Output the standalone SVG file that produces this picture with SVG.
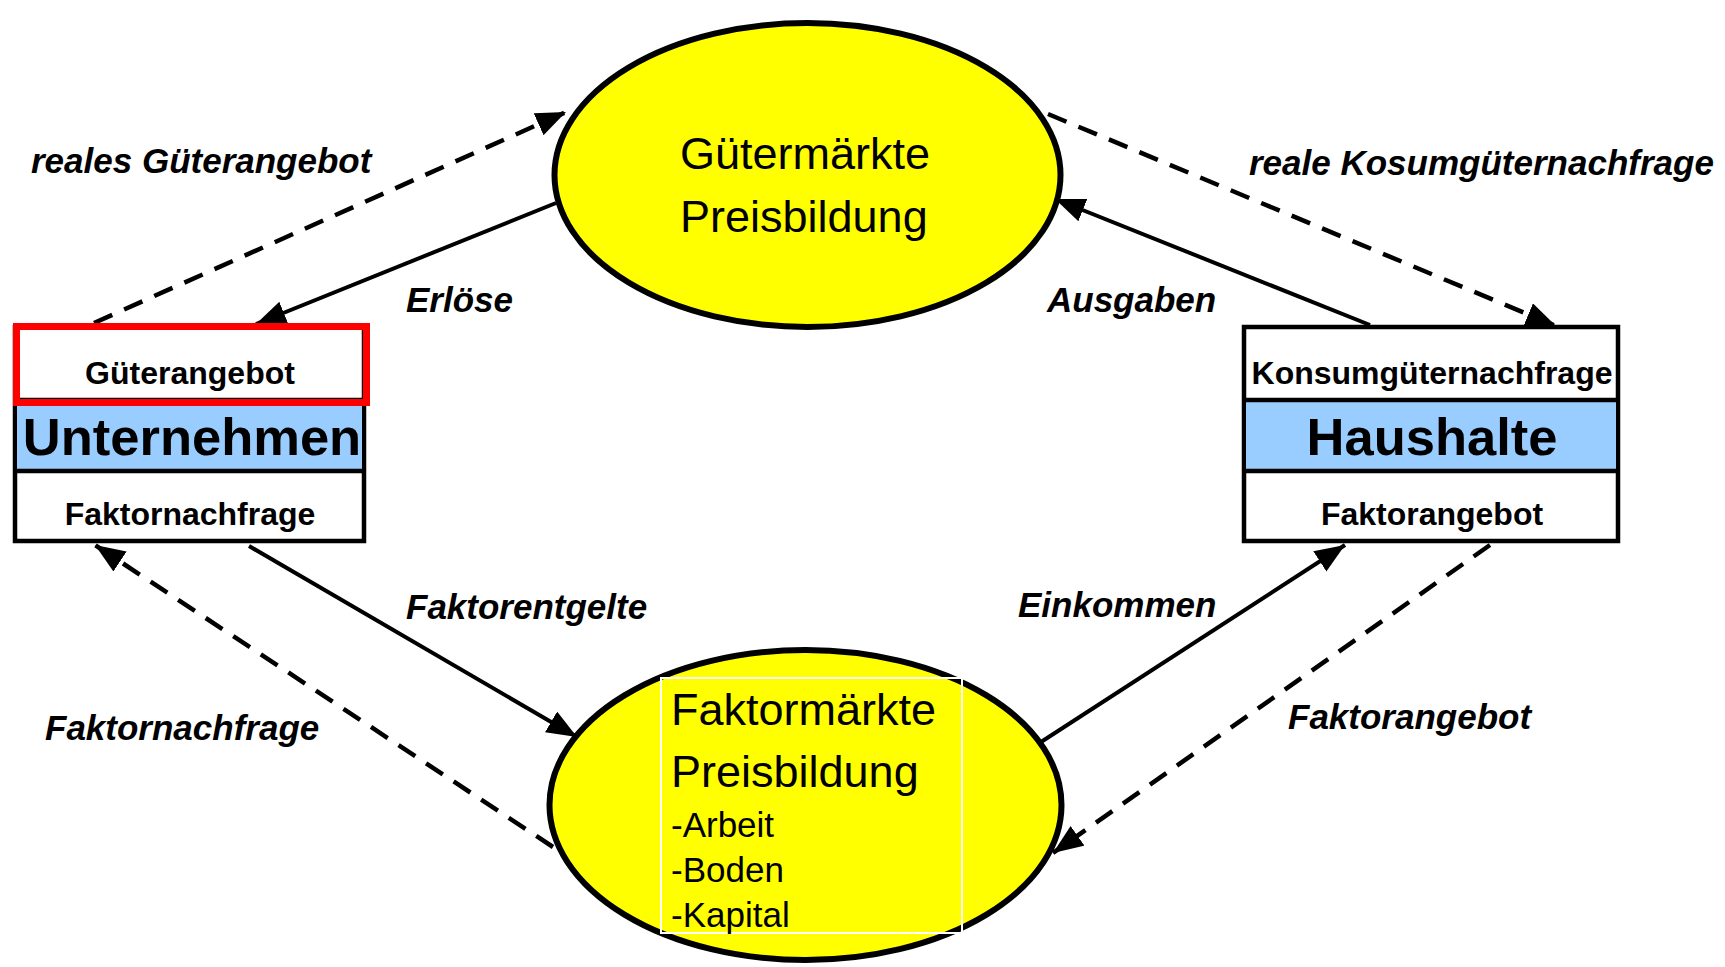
<svg xmlns="http://www.w3.org/2000/svg" width="1725" height="967" viewBox="0 0 1725 967">
<style>
.ell{fill:#FFFF00;stroke:#000;stroke-width:6}
.box{fill:#fff;stroke:#000;stroke-width:4.5}
.band{fill:#99CCFF;stroke:none}
.sep{stroke:#000;stroke-width:4.5}
.btxt{font-family:"Liberation Sans",Arial,sans-serif;font-weight:bold;font-size:32px;fill:#000;text-anchor:middle}
.big{font-family:"Liberation Sans",Arial,sans-serif;font-weight:bold;font-size:52.5px;fill:#000;text-anchor:middle}
.mtxt{font-family:"Liberation Sans",Arial,sans-serif;font-size:45px;fill:#000}
.stxt{font-family:"Liberation Sans",Arial,sans-serif;font-size:35px;fill:#000}
.lbl{font-family:"Liberation Sans",Arial,sans-serif;font-weight:bold;font-style:italic;font-size:35px;fill:#000}
.solid{stroke:#000;stroke-width:4;fill:none;marker-end:url(#ah)}
.dash{stroke:#000;stroke-width:4.5;fill:none;stroke-dasharray:20 13;marker-end:url(#ah)}
</style>
<defs>
<marker id="ah" markerUnits="userSpaceOnUse" markerWidth="32" markerHeight="26" refX="30" refY="12" orient="auto" viewBox="0 0 32 26">
<path d="M0,0 L30,12 L0,24 z" fill="#000" stroke="none"/>
</marker>
</defs>
<rect width="1725" height="967" fill="#fff"/>
<g id="connectors">
<line class="dash" x1="94" y1="323" x2="566" y2="112"/>
<line class="solid" x1="556" y1="203" x2="256" y2="324"/>
<line class="solid" x1="1370" y1="325" x2="1055" y2="199"/>
<line class="dash" x1="1048" y1="114" x2="1556" y2="326"/>
<line class="solid" x1="249" y1="546" x2="577" y2="737"/>
<line class="dash" x1="553" y1="847" x2="95" y2="545"/>
<line class="solid" x1="1041" y1="742" x2="1345" y2="545"/>
<line class="dash" x1="1490" y1="545" x2="1053" y2="853"/>
</g>
<g id="gueter">
<ellipse class="ell" cx="807.5" cy="175" rx="253" ry="152"/>
<text class="mtxt" x="680" y="169">Gütermärkte</text>
<text class="mtxt" x="680" y="232">Preisbildung</text>
</g>
<g id="faktor">
<ellipse class="ell" cx="805.5" cy="805" rx="256" ry="155"/>
<rect x="661" y="678" width="301" height="255" fill="none" stroke="#fff" stroke-width="2"/>
<text class="mtxt" x="671" y="725">Faktormärkte</text>
<text class="mtxt" x="671" y="787">Preisbildung</text>
<text class="stxt" x="671" y="837">-Arbeit</text>
<text class="stxt" x="671" y="882">-Boden</text>
<text class="stxt" x="671" y="927">-Kapital</text>
</g>
<g id="unternehmen">
<rect class="box" x="15" y="327" width="349" height="214"/>
<rect class="band" x="17" y="402" width="345" height="67"/>
<line class="sep" x1="15" y1="400" x2="364" y2="400"/>
<line class="sep" x1="15" y1="471" x2="364" y2="471"/>
<rect x="16.5" y="326.5" width="350" height="76" fill="none" stroke="#FF0000" stroke-width="7"/>
<text class="btxt" x="190" y="384">Güterangebot</text>
<text class="big" x="192" y="455">Unternehmen</text>
<text class="btxt" x="190" y="525">Faktornachfrage</text>
</g>
<g id="haushalte">
<rect class="box" x="1244" y="327" width="374" height="214"/>
<rect class="band" x="1246" y="401" width="370" height="68"/>
<line class="sep" x1="1244" y1="400" x2="1618" y2="400"/>
<line class="sep" x1="1244" y1="471" x2="1618" y2="471"/>
<text class="btxt" x="1432" y="384">Konsumgüternachfrage</text>
<text class="big" x="1432" y="455">Haushalte</text>
<text class="btxt" x="1432" y="525">Faktorangebot</text>
</g>
<g id="labels">
<text class="lbl" x="31" y="173">reales Güterangebot</text>
<text class="lbl" x="406" y="312">Erlöse</text>
<text class="lbl" x="1047" y="312">Ausgaben</text>
<text class="lbl" x="1249" y="175">reale Kosumgüternachfrage</text>
<text class="lbl" x="406" y="619">Faktorentgelte</text>
<text class="lbl" x="45" y="740">Faktornachfrage</text>
<text class="lbl" x="1018" y="617">Einkommen</text>
<text class="lbl" x="1288" y="729">Faktorangebot</text>
</g>
</svg>
